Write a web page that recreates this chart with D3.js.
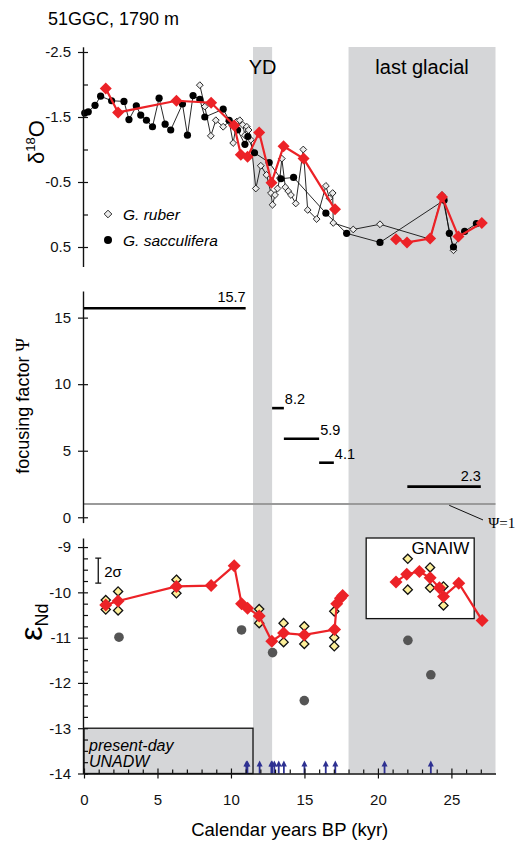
<!DOCTYPE html>
<html>
<head>
<meta charset="utf-8">
<script src="https://cdn.jsdelivr.net/npm/d3@7"></script>
<style>
  body { margin: 0; background: #fff; }
  svg { font-family: "Liberation Sans", Arial, sans-serif; }
</style>
</head>
<body>
<div id="chart"></div>
<script>
// 51GGC composite: d18O, focusing factor, eNd vs calendar age

// periods
const bandNames = ["YD", "last glacial"];
const bandStart = [11.5, 18.0];
const bandEnd = [12.8, 28.0];

// d18O, G. sacculifera
const saccAge = [0.05, 0.29, 0.75, 1.13, 1.88, 2.72, 3.06, 3.56, 3.86, 4.25, 4.66, 5.11, 5.52, 5.90,
  6.70, 7.04, 7.42, 7.88, 8.22, 9.47, 9.88, 10.45, 10.95, 11.15, 11.6, 12.6, 13.4, 14.26, 16.46,
  17.87, 20.14, 24.5, 24.86, 25.14, 25.9, 26.7];
const saccD18O = [-1.56, -1.58, -1.68, -1.82, -1.75, -1.74, -1.46, -1.67, -1.53, -1.45, -1.35, -1.79, -1.39, -1.30,
  -1.70, -1.22, -1.83, -1.77, -1.50, -1.62, -1.45, -1.30, -1.08, -1.20, -0.95, -0.80, -0.55, -0.57, -0.02,
  0.29, 0.43, -0.22, 0.29, 0.50, 0.26, 0.14];

// d18O, G. ruber
const ruberAge = [7.88, 8.22, 8.63, 8.97, 9.47, 9.88, 10.15, 10.4, 10.6, 10.8, 10.95, 11.08, 11.2, 11.35,
  11.69, 12.03, 12.42, 12.72, 12.83, 13.0, 13.17, 13.33, 13.46, 13.7, 13.9, 14.08, 14.41, 14.92,
  15.22, 15.83, 16.46, 16.7, 16.92, 16.96, 18.32, 20.14, 23.55, 24.36, 25.14];
const ruberD18O = [-1.99, -1.66, -1.21, -1.45, -1.35, -1.43, -1.10, -1.43, -1.45, -1.38, -1.22, -1.35, -1.30, -1.15,
  -0.40, -0.75, -0.61, -0.33, -0.15, -0.30, -0.40, -0.56, -0.86, -0.42, -0.36, -0.30, -0.17, -1.00,
  -0.07, 0.07, -0.44, -0.25, -0.33, 0.13, 0.23, 0.15, 0.38, -0.30, 0.55];

// d18O at the Nd sample depths (null = break in line)
const ndD18OAge = [1.48, 2.32, 6.29, 8.65, 10.22, 10.67, 11.13, 11.92, 12.76, 13.58, 14.94, 17.08, null,
  21.23, 21.98, 23.55, 24.36, 25.48, 27.07];
const ndD18O = [-1.94, -1.57, -1.75, -1.72, -1.37, -0.92, -0.89, -1.26, -0.49, -1.05, -0.86, -0.08, null,
  0.38, 0.43, 0.37, -0.27, 0.34, 0.13];

// focusing factor
const psiStart = [0, 12.8, 13.6, 16.0, 22.0];
const psiEnd = [11.0, 13.6, 16.0, 17.0, 27.0];
const psiValue = [15.7, 8.2, 5.9, 4.1, 2.3];

// eNd means
const epsAge = [1.48, 2.32, 6.29, 8.65, 10.22, 10.72, 11.13, 11.92, 12.78, 13.58, 14.99, 17.05, 17.2, 17.45, 17.6, null,
  21.23, 21.96, 22.82, 23.55, 24.18, 24.46, 25.5, 27.09];
const epsMean = [-10.28, -10.19, -9.87, -9.85, -9.41, -10.25, -10.35, -10.52, -11.08, -10.90, -10.94, -10.82, -10.25, -10.13, -10.07, null,
  -9.77, -9.60, -9.54, -9.68, -9.90, -10.09, -9.80, -10.62];

// eNd replicates
const repAge = [1.48, 1.48, 2.32, 2.32, 6.29, 6.29, 11.92, 11.92, 13.58, 13.58, 14.99, 14.99, 17.03, 17.03, 17.03,
  22.03, 22.03, 23.55, 23.55, 24.46, 24.46];
const repEps = [-10.17, -10.38, -9.98, -10.40, -9.72, -10.02, -10.37, -10.68, -10.68, -11.10, -10.75, -11.14, -10.42, -11.0, -11.19,
  -9.26, -9.94, -9.45, -9.90, -9.87, -10.29];

// eNd, grey dots
const dotAge = [2.38, 10.72, 12.83, 14.99, 22.04, 23.6];
const dotEps = [-10.99, -10.83, -11.33, -12.39, -11.06, -11.82];

// age control points
const arrowAge = [11.05, 11.12, 11.95, 12.75, 12.8, 12.95, 13.25, 13.6, 15.0, 16.45, 17.1, 20.45, 23.6];

// reference boxes
const unadwBox = { age: [0, 11.5], eps: [-14, -13] };
const gnaiwBox = { age: [19.2, 26.55], eps: [-8.8, -10.58] };
const twoSigma = { age: 0.97, center: -9.52, span: 0.55 };

const ageTicks = [0, 5, 10, 15, 20, 25];
const d18OTicks = [-2.5, -1.5, -0.5, 0.5];
const psiTicks = [0, 5, 10, 15];
const epsTicks = [-9, -10, -11, -12, -13, -14];

const width = 527, height = 843;
const red = "#ec2227", shade = "#d5d6d8", blue = "#2e3192";

const svg = d3.select("#chart").append("svg")
    .attr("width", width)
    .attr("height", height);

const x = d3.scaleLinear().domain([0, 28]).range([84, 495.5]);
const yTop = d3.scaleLinear().domain([-2.58, 0.8]).range([46.8, 266.5]);
const yPsi = d3.scaleLinear().domain([-0.4, 17]).range([522.6, 291]);
const yEps = d3.scaleLinear().domain([-14, -8.8]).range([773.5, 538]);
const xAxisY = yEps(-14);

const diamond = r => `M0,${-r}L${r},0L0,${r}L${-r},0Z`;

// shaded periods
bandStart.forEach((s, i) => {
  svg.append("rect")
      .attr("x", x(s)).attr("y", 47)
      .attr("width", x(bandEnd[i]) - x(s))
      .attr("height", xAxisY - 47)
      .attr("fill", shade);
  svg.append("text")
      .attr("x", (x(s) + x(bandEnd[i])) / 2)
      .attr("y", 74)
      .attr("text-anchor", "middle")
      .style("font-size", "20px")
      .text(bandNames[i]);
});

svg.append("text")
    .attr("x", 48).attr("y", 25)
    .style("font-size", "18px")
    .text("51GGC, 1790 m");

// ---------- top panel: d18O ----------
const topPanel = svg.append("g");

const d18Line = d3.line().x(d => x(d[0])).y(d => yTop(d[1]));
const saccPts = saccAge.map((a, i) => [a, saccD18O[i]]);
const ruberPts = ruberAge.map((a, i) => [a, ruberD18O[i]]);
const ndPts = ndD18OAge.map((a, i) => [a, ndD18O[i]]);

topPanel.append("path").datum(saccPts)
    .attr("d", d18Line).attr("fill", "none").attr("stroke", "#111").attr("stroke-width", 0.9);
topPanel.append("path").datum(ruberPts)
    .attr("d", d18Line).attr("fill", "none").attr("stroke", "#111").attr("stroke-width", 0.9);

topPanel.selectAll(".ruber").data(ruberPts).join("path")
    .attr("transform", d => `translate(${x(d[0])},${yTop(d[1])})`)
    .attr("d", diamond(3.4))
    .attr("fill", "#ececec").attr("stroke", "#111").attr("stroke-width", 0.9);
topPanel.selectAll(".sacc").data(saccPts).join("circle")
    .attr("cx", d => x(d[0])).attr("cy", d => yTop(d[1]))
    .attr("r", 3.6).attr("fill", "#000");

topPanel.append("path").datum(ndPts)
    .attr("d", d3.line().defined(d => d[0] != null).x(d => x(d[0])).y(d => yTop(d[1])))
    .attr("fill", "none").attr("stroke", red).attr("stroke-width", 2.2);
topPanel.selectAll(".ndd").data(ndPts.filter(d => d[0] != null)).join("path")
    .attr("transform", d => `translate(${x(d[0])},${yTop(d[1])})`)
    .attr("d", diamond(6)).attr("fill", red);

// legend
topPanel.append("path").attr("transform", "translate(108,214)")
    .attr("d", diamond(3.8)).attr("fill", "#ececec").attr("stroke", "#111").attr("stroke-width", 0.9);
topPanel.append("circle").attr("cx", 108).attr("cy", 240).attr("r", 4).attr("fill", "#000");
topPanel.append("text").attr("x", 123).attr("y", 220).style("font-size", "15.5px").style("font-style", "italic").text("G. ruber");
topPanel.append("text").attr("x", 123).attr("y", 246).style("font-size", "15.5px").style("font-style", "italic").text("G. sacculifera");

function styleAxis(g) {
  g.selectAll(".tick text").style("font-size", "15px").style("font-family", "Liberation Sans, Arial, sans-serif").attr("fill", "#111");
  g.selectAll(".tick line").attr("stroke", "#111").attr("stroke-width", 1.2);
  g.select(".domain").attr("stroke", "#111").attr("stroke-width", 1.4);
}

function leftAxis(scale, ticks, minor) {
  const g = svg.append("g").attr("transform", `translate(${x(0) - 1},0)`);
  g.call(d3.axisLeft(scale).tickValues(ticks).tickSize(5).tickSizeOuter(0).tickPadding(7).tickFormat(d => String(d)));
  g.selectAll(".tick line").attr("x1", 5);
  if (minor) {
    const m = svg.append("g").attr("transform", `translate(${x(0) - 1},0)`);
    m.call(d3.axisRight(scale).tickValues(minor).tickSize(5).tickFormat(""));
    m.select(".domain").remove();
    styleAxis(m);
  }
  styleAxis(g);
  return g;
}

leftAxis(yTop, d18OTicks, [-2.0, -1.0, 0.0]);

svg.append("text")
    .attr("transform", `translate(44,142) rotate(-90)`)
    .attr("text-anchor", "middle")
    .style("font-size", "22px")
    .call(t => {
      t.append("tspan").text("δ");
      t.append("tspan").attr("dy", -9).style("font-size", "13px").text("18");
      t.append("tspan").attr("dy", 9).text("O");
    });

// ---------- middle panel: focusing factor ----------
const mid = svg.append("g");
mid.append("line")
    .attr("x1", x(0)).attr("x2", x(28))
    .attr("y1", yPsi(1)).attr("y2", yPsi(1))
    .attr("stroke", "#9a9a9a").attr("stroke-width", 2);

const psiData = psiValue.map((v, i) => ({ s: psiStart[i], e: psiEnd[i], v }));
mid.selectAll(".psi").data(psiData).join("line")
    .attr("x1", d => x(d.s)).attr("x2", d => x(d.e))
    .attr("y1", d => yPsi(d.v)).attr("y2", d => yPsi(d.v))
    .attr("stroke", "#000").attr("stroke-width", 2.6);
mid.selectAll(".psil").data(psiData).join("text")
    .attr("x", d => d.e - d.s > 4 ? x(d.e) : x(d.e) + 1)
    .attr("y", d => yPsi(d.v) - (d.e - d.s > 4 ? 6 : 4))
    .attr("text-anchor", d => d.e - d.s > 4 ? "end" : "start")
    .style("font-size", "14.5px")
    .text(d => d.v.toFixed(1));

mid.append("line")
    .attr("x1", x(24.85)).attr("y1", yPsi(0.9))
    .attr("x2", x(27.15)).attr("y2", yPsi(-0.2))
    .attr("stroke", "#111").attr("stroke-width", 1);
mid.append("text")
    .attr("x", x(27.5)).attr("y", yPsi(-0.82))
    .style("font-size", "15px").style("font-family", "Liberation Serif, serif")
    .text("Ψ=1");

leftAxis(yPsi, psiTicks, null);

svg.append("text")
    .attr("transform", `translate(29,406) rotate(-90)`)
    .attr("text-anchor", "middle")
    .style("font-size", "18px")
    .call(t => {
      t.append("tspan").text("focusing factor ");
      t.append("tspan").style("font-family", "Liberation Serif, serif").text("Ψ");
    });

// ---------- bottom panel: eNd ----------
const bot = svg.append("g");

bot.append("rect")
    .attr("x", x(unadwBox.age[0])).attr("y", yEps(unadwBox.eps[1]))
    .attr("width", x(unadwBox.age[1]) - x(unadwBox.age[0]))
    .attr("height", yEps(unadwBox.eps[0]) - yEps(unadwBox.eps[1]))
    .attr("fill", shade).attr("stroke", "#111").attr("stroke-width", 1.3);
bot.append("text").attr("x", x(0) + 5).attr("y", 751)
    .style("font-size", "16px").style("font-style", "italic").text("present-day");
bot.append("text").attr("x", x(0) + 5).attr("y", 767)
    .style("font-size", "16px").style("font-style", "italic").text("UNADW");

bot.append("rect")
    .attr("x", x(gnaiwBox.age[0])).attr("y", yEps(gnaiwBox.eps[0]))
    .attr("width", x(gnaiwBox.age[1]) - x(gnaiwBox.age[0]))
    .attr("height", yEps(gnaiwBox.eps[1]) - yEps(gnaiwBox.eps[0]))
    .attr("fill", "#fff").attr("stroke", "#111").attr("stroke-width", 1.3);
bot.append("text").attr("x", x(gnaiwBox.age[1]) - 5).attr("y", yEps(gnaiwBox.eps[0]) + 16)
    .attr("text-anchor", "end").style("font-size", "17px").text("GNAIW");

// 2 sigma bar
const sx = x(twoSigma.age);
const sy1 = yEps(twoSigma.center + twoSigma.span / 2), sy2 = yEps(twoSigma.center - twoSigma.span / 2);
bot.append("path")
    .attr("d", `M${sx},${sy1}V${sy2}M${sx - 3},${sy1}H${sx + 3}M${sx - 3},${sy2}H${sx + 3}`)
    .attr("stroke", "#111").attr("stroke-width", 1.3).attr("fill", "none");
bot.append("text").attr("x", sx + 6).attr("y", yEps(twoSigma.center) + 6)
    .style("font-size", "15px").text("2σ");

const repPts = repAge.map((a, i) => [a, repEps[i]]);
bot.selectAll(".rep").data(repPts).join("path")
    .attr("transform", d => `translate(${x(d[0])},${yEps(d[1])})`)
    .attr("d", diamond(4.6))
    .attr("fill", "#fdf09a").attr("stroke", "#111").attr("stroke-width", 1.3);

bot.selectAll(".dot").data(dotAge.map((a, i) => [a, dotEps[i]])).join("circle")
    .attr("cx", d => x(d[0])).attr("cy", d => yEps(d[1]))
    .attr("r", 4.8).attr("fill", "#555");

const epsPts = epsAge.map((a, i) => [a, epsMean[i]]);
bot.append("path").datum(epsPts)
    .attr("d", d3.line().defined(d => d[0] != null).x(d => x(d[0])).y(d => yEps(d[1])))
    .attr("fill", "none").attr("stroke", red).attr("stroke-width", 2.2);
bot.selectAll(".epsd").data(epsPts.filter(d => d[0] != null)).join("path")
    .attr("transform", d => `translate(${x(d[0])},${yEps(d[1])})`)
    .attr("d", diamond(6.5)).attr("fill", red);

// age control arrows
bot.selectAll(".arr").data(arrowAge).join("path")
    .attr("d", a => `M${x(a)},${xAxisY}V${xAxisY - 8}`)
    .attr("stroke", blue).attr("stroke-width", 1.8);
bot.selectAll(".arrh").data(arrowAge).join("path")
    .attr("d", a => `M${x(a) - 3},${xAxisY - 7}L${x(a)},${xAxisY - 13}L${x(a) + 3},${xAxisY - 7}Z`)
    .attr("fill", blue);

leftAxis(yEps, epsTicks, d3.range(-13.75, -8.8, 0.25).filter(v => v % 1 !== 0));

svg.append("text")
    .attr("transform", `translate(42,622) rotate(-90)`)
    .attr("text-anchor", "middle")
    .call(t => {
      t.append("tspan").style("font-size", "32px").text("ε");
      t.append("tspan").attr("dy", 6).style("font-size", "18px").text("Nd");
    });

// ---------- x axis ----------
const xg = svg.append("g").attr("transform", `translate(0,${xAxisY})`);
xg.call(d3.axisBottom(x).tickValues(ageTicks).tickSize(5).tickSizeOuter(0).tickPadding(16));
xg.selectAll(".tick line").attr("y1", -5);
styleAxis(xg);
const xm = svg.append("g").attr("transform", `translate(0,${xAxisY})`);
xm.call(d3.axisTop(x).tickValues(d3.range(1, 28).filter(v => v % 5 !== 0)).tickSize(4).tickFormat(""));
xm.select(".domain").remove();
styleAxis(xm);

svg.append("text")
    .attr("x", (x(0) + x(28)) / 2).attr("y", 836)
    .attr("text-anchor", "middle")
    .style("font-size", "18.5px")
    .text("Calendar years BP (kyr)");
</script>
</body>
</html>
